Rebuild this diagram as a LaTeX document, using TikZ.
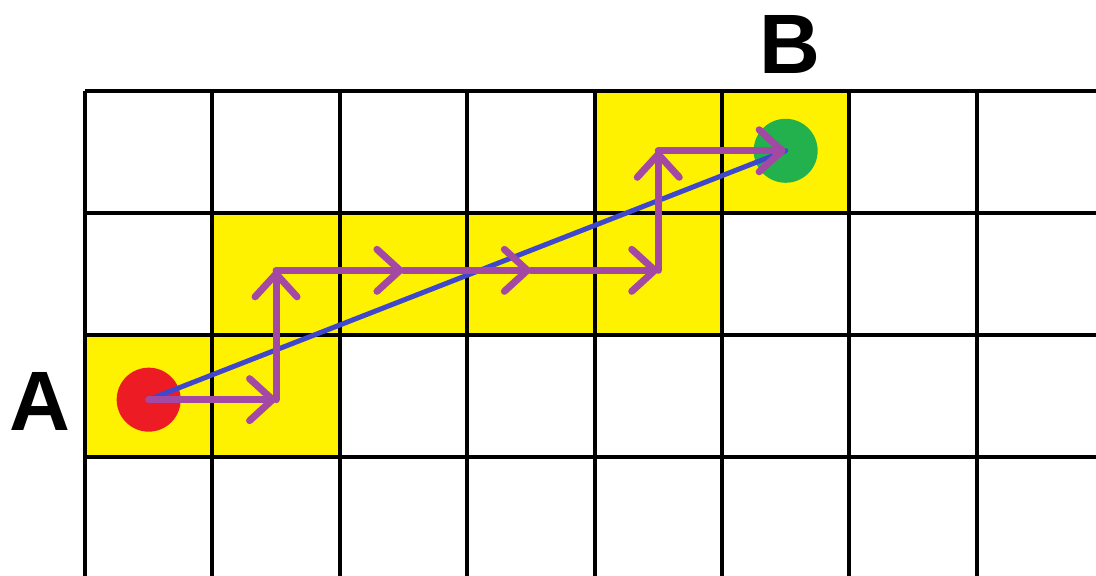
\documentclass[tikz,border=0pt]{standalone}
\usepackage{fontspec}
\setmainfont{Liberation Sans}
\usepackage{tikz}
\usetikzlibrary{arrows.meta}
\usetikzlibrary{calc}

\definecolor{cellyellow}{RGB}{255,242,0}
\definecolor{dotred}{RGB}{237,28,36}
\definecolor{dotgreen}{RGB}{34,177,76}
\definecolor{lineblue}{RGB}{63,72,204}
\definecolor{steppurple}{RGB}{163,73,164}

\tikzset{
	gridline/.style={line width=0.08cm},
	endpoint/.style={circle,inner sep=0pt,minimum size=1.28cm},
	endlabel/.style={inner sep=0pt,font=\fontsize{48}{48}\selectfont\bfseries},
	stepline/.style={line width=0.14cm,steppurple,line cap=round,
		-{Straight Barb[length=0.46cm,width=0.84cm,round]}},
}

\begin{document}
\begin{tikzpicture}[x=2.548cm,y=-2.44cm]
	\useasboundingbox (-0.667,-0.746) rectangle (7.936,3.975);
	% highlighted cells
	\foreach \i/\j in {0/2,1/2,1/1,2/1,3/1,4/1,4/0,5/0}
		\fill[cellyellow] (\i,\j) rectangle ++(1,1);
	% grid
	\foreach \i in {0,...,7}
		\draw[gridline] (\i,0) -- (\i,3.975);
	\foreach \j in {0,...,3}
		\draw[gridline] (0,\j) -- (7.936,\j);

	\node[endpoint,fill=dotred] (redA) at (0.5,2.53) {};
	\node[endpoint,fill=dotgreen] (greenB) at (5.5,0.49) {};
	\node[endlabel] (labA) at (-0.353,2.549) {A};
	\node[endlabel] (labB) at (5.53,-0.385) {B};

	\coordinate (p1) at (1.5,2.53);
	\coordinate (p2) at (1.5,1.47);
	\coordinate (p3) at (2.5,1.47);
	\coordinate (p4) at (3.5,1.47);
	\coordinate (p5) at (4.5,1.47);
	\coordinate (p6) at (4.5,0.49);

	\draw[line width=0.1cm,lineblue,line cap=round] (redA.center) -- (greenB.center);
	\foreach \a/\b in {redA.center/p1,p1/p2,p2/p3,p3/p4,p4/p5,p5/p6,p6/greenB.center}
		\draw[stepline] (\a) -- (\b);
\end{tikzpicture}
\end{document}
